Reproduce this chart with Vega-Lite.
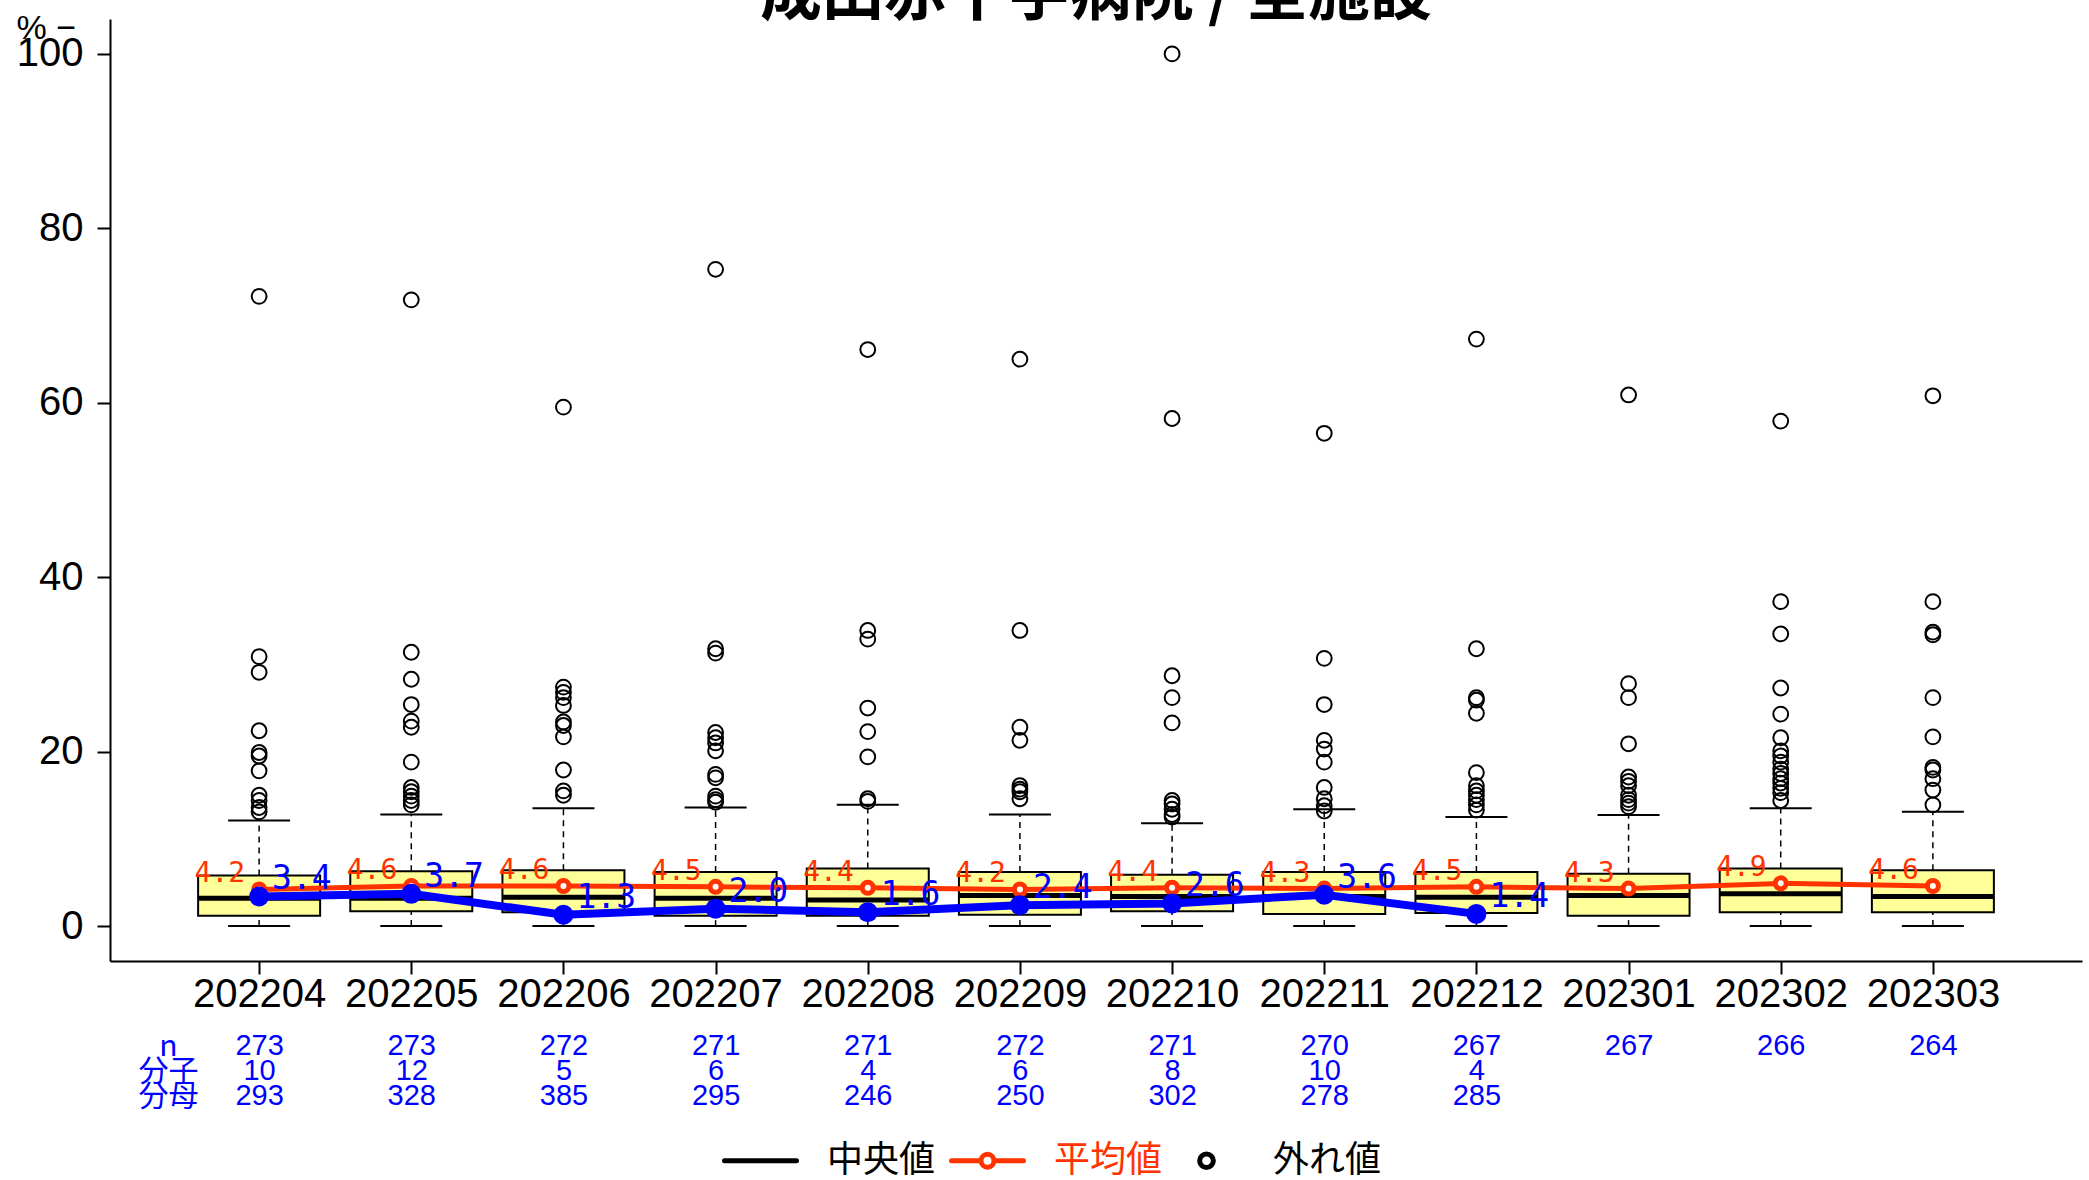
{
  "$schema": "https://vega.github.io/schema/vega-lite/v6.json",
  "width": 1972,
  "height": 942,
  "autosize": {"type": "none"},
  "padding": {"left": 110, "top": 19, "right": 7, "bottom": 219},
  "background": "white",
  "title": {"text": "成田赤十字病院 / 全施設", "font": "Noto Sans CJK JP", "fontSize": 62, "fontWeight": "bold", "color": "black", "anchor": "middle", "frame": "group", "offset": 0, "dy": 17},
  "config": {
    "view": {"stroke": null},
    "axis": {"grid": false},
    "legend": {"labelFont": "Noto Sans CJK JP", "labelFontSize": 36, "labelColor": "black", "symbolSize": 5184, "symbolStrokeWidth": 5, "labelOffset": 28, "columnPadding": 5, "labelLimit": 0, "padding": 0}
  },
  "datasets": {
    "stats": [
      {"month": "202204", "lo": 0, "q1": 1.2, "med": 3.2, "q3": 5.8, "hi": 12.1, "mean": 4.2, "hosp": 3.4, "table": "273|10|293"},
      {"month": "202205", "lo": 0, "q1": 1.7, "med": 3.2, "q3": 6.3, "hi": 12.8, "mean": 4.6, "hosp": 3.7, "table": "273|12|328"},
      {"month": "202206", "lo": 0, "q1": 1.6, "med": 3.3, "q3": 6.4, "hi": 13.5, "mean": 4.6, "hosp": 1.3, "table": "272|5|385"},
      {"month": "202207", "lo": 0, "q1": 1.2, "med": 3.2, "q3": 6.2, "hi": 13.6, "mean": 4.5, "hosp": 2.0, "table": "271|6|295"},
      {"month": "202208", "lo": 0, "q1": 1.2, "med": 3.0, "q3": 6.6, "hi": 13.9, "mean": 4.4, "hosp": 1.6, "table": "271|4|246"},
      {"month": "202209", "lo": 0, "q1": 1.3, "med": 3.5, "q3": 6.2, "hi": 12.8, "mean": 4.2, "hosp": 2.4, "table": "272|6|250"},
      {"month": "202210", "lo": 0, "q1": 1.7, "med": 3.4, "q3": 5.9, "hi": 11.8, "mean": 4.4, "hosp": 2.6, "table": "271|8|302"},
      {"month": "202211", "lo": 0, "q1": 1.4, "med": 3.4, "q3": 6.2, "hi": 13.4, "mean": 4.3, "hosp": 3.6, "table": "270|10|278"},
      {"month": "202212", "lo": 0, "q1": 1.5, "med": 3.3, "q3": 6.2, "hi": 12.5, "mean": 4.5, "hosp": 1.4, "table": "267|4|285"},
      {"month": "202301", "lo": 0, "q1": 1.2, "med": 3.5, "q3": 6.0, "hi": 12.75, "mean": 4.3, "hosp": null, "table": "267"},
      {"month": "202302", "lo": 0, "q1": 1.6, "med": 3.7, "q3": 6.6, "hi": 13.5, "mean": 4.9, "hosp": null, "table": "266"},
      {"month": "202303", "lo": 0, "q1": 1.6, "med": 3.4, "q3": 6.4, "hi": 13.1, "mean": 4.6, "hosp": null, "table": "264"}
    ],
    "outliers": [
      {"month": "202204", "v": 72.2}, {"month": "202204", "v": 30.9}, {"month": "202204", "v": 29.1}, {"month": "202204", "v": 22.4}, {"month": "202204", "v": 19.9}, {"month": "202204", "v": 19.5}, {"month": "202204", "v": 17.8}, {"month": "202204", "v": 15.0}, {"month": "202204", "v": 14.4}, {"month": "202204", "v": 13.6}, {"month": "202204", "v": 13.1},
      {"month": "202205", "v": 71.8}, {"month": "202205", "v": 31.4}, {"month": "202205", "v": 28.3}, {"month": "202205", "v": 25.4}, {"month": "202205", "v": 23.5}, {"month": "202205", "v": 22.8}, {"month": "202205", "v": 18.8}, {"month": "202205", "v": 15.9}, {"month": "202205", "v": 15.4}, {"month": "202205", "v": 14.9}, {"month": "202205", "v": 14.4}, {"month": "202205", "v": 13.9},
      {"month": "202206", "v": 59.5}, {"month": "202206", "v": 27.4}, {"month": "202206", "v": 26.8}, {"month": "202206", "v": 26.2}, {"month": "202206", "v": 25.3}, {"month": "202206", "v": 23.4}, {"month": "202206", "v": 23.0}, {"month": "202206", "v": 21.7}, {"month": "202206", "v": 17.9}, {"month": "202206", "v": 15.5}, {"month": "202206", "v": 15.0},
      {"month": "202207", "v": 75.3}, {"month": "202207", "v": 31.8}, {"month": "202207", "v": 31.3}, {"month": "202207", "v": 22.2}, {"month": "202207", "v": 21.6}, {"month": "202207", "v": 21.0}, {"month": "202207", "v": 20.1}, {"month": "202207", "v": 17.4}, {"month": "202207", "v": 17.0}, {"month": "202207", "v": 14.9}, {"month": "202207", "v": 14.5}, {"month": "202207", "v": 14.2},
      {"month": "202208", "v": 66.1}, {"month": "202208", "v": 33.9}, {"month": "202208", "v": 32.9}, {"month": "202208", "v": 25.0}, {"month": "202208", "v": 22.3}, {"month": "202208", "v": 19.4}, {"month": "202208", "v": 14.6}, {"month": "202208", "v": 14.3},
      {"month": "202209", "v": 65.0}, {"month": "202209", "v": 33.9}, {"month": "202209", "v": 22.8}, {"month": "202209", "v": 21.3}, {"month": "202209", "v": 16.1}, {"month": "202209", "v": 15.7}, {"month": "202209", "v": 15.4}, {"month": "202209", "v": 14.6},
      {"month": "202210", "v": 100.0}, {"month": "202210", "v": 58.2}, {"month": "202210", "v": 28.7}, {"month": "202210", "v": 26.2}, {"month": "202210", "v": 23.3}, {"month": "202210", "v": 14.4}, {"month": "202210", "v": 14.0}, {"month": "202210", "v": 13.4}, {"month": "202210", "v": 12.8}, {"month": "202210", "v": 12.5},
      {"month": "202211", "v": 56.5}, {"month": "202211", "v": 30.7}, {"month": "202211", "v": 25.4}, {"month": "202211", "v": 21.3}, {"month": "202211", "v": 20.3}, {"month": "202211", "v": 18.8}, {"month": "202211", "v": 15.9}, {"month": "202211", "v": 14.6}, {"month": "202211", "v": 13.8}, {"month": "202211", "v": 13.2},
      {"month": "202212", "v": 67.3}, {"month": "202212", "v": 31.8}, {"month": "202212", "v": 26.2}, {"month": "202212", "v": 25.9}, {"month": "202212", "v": 24.4}, {"month": "202212", "v": 17.6}, {"month": "202212", "v": 16.1}, {"month": "202212", "v": 15.5}, {"month": "202212", "v": 15.0}, {"month": "202212", "v": 14.5}, {"month": "202212", "v": 13.9}, {"month": "202212", "v": 13.3},
      {"month": "202301", "v": 60.9}, {"month": "202301", "v": 27.8}, {"month": "202301", "v": 26.2}, {"month": "202301", "v": 20.9}, {"month": "202301", "v": 17.1}, {"month": "202301", "v": 16.6}, {"month": "202301", "v": 16.1}, {"month": "202301", "v": 15.0}, {"month": "202301", "v": 14.5}, {"month": "202301", "v": 14.1}, {"month": "202301", "v": 13.7},
      {"month": "202302", "v": 57.9}, {"month": "202302", "v": 37.2}, {"month": "202302", "v": 33.5}, {"month": "202302", "v": 27.3}, {"month": "202302", "v": 24.3}, {"month": "202302", "v": 21.6}, {"month": "202302", "v": 20.1}, {"month": "202302", "v": 19.5}, {"month": "202302", "v": 18.8}, {"month": "202302", "v": 18.0}, {"month": "202302", "v": 17.5}, {"month": "202302", "v": 16.9}, {"month": "202302", "v": 16.4}, {"month": "202302", "v": 15.8}, {"month": "202302", "v": 15.3}, {"month": "202302", "v": 14.4},
      {"month": "202303", "v": 60.8}, {"month": "202303", "v": 37.2}, {"month": "202303", "v": 33.7}, {"month": "202303", "v": 33.4}, {"month": "202303", "v": 26.2}, {"month": "202303", "v": 21.7}, {"month": "202303", "v": 18.2}, {"month": "202303", "v": 17.9}, {"month": "202303", "v": 16.9}, {"month": "202303", "v": 15.6}, {"month": "202303", "v": 13.9}
    ]
  },
  "layer": [
    {
      "encoding": {
        "x": {"field": "month", "type": "nominal", "sort": null,
          "scale": {"type": "point", "padding": 0.98, "domain": ["202204","202205","202206","202207","202208","202209","202210","202211","202212","202301","202302","202303"]},
          "axis": {"title": null, "orient": "bottom", "labelFont": "Liberation Sans", "labelFontSize": 40, "labelColor": "black", "labelAngle": 0, "labelPadding": 0, "labelOverlap": false, "labelBound": false, "tickSize": 13, "tickWidth": 2, "tickColor": "black", "domainColor": "black", "domainWidth": 2}
        }
      },
      "layer": [
        {"data": {"name": "stats"}, "mark": {"type": "rule", "strokeDash": [6, 5], "strokeWidth": 1.5, "color": "black"},
          "encoding": {"y": {"field": "q3", "type": "quantitative", "scale": {"domain": [-4, 104], "nice": false, "zero": false},
            "axis": {"values": [0, 20, 40, 60, 80, 100], "title": "% −", "titleAngle": 0, "titleAlign": "left", "titleBaseline": "alphabetic", "titleX": -94, "titleY": 19, "titleFont": "Liberation Sans", "titleFontSize": 34, "titleFontWeight": "normal", "titleColor": "black", "labelFont": "Liberation Sans", "labelFontSize": 40, "labelColor": "black", "labelPadding": 14, "tickSize": 13, "tickWidth": 2, "tickColor": "black", "domainColor": "black", "domainWidth": 2, "labelOverlap": false}},
            "y2": {"field": "hi"}}},
        {"data": {"name": "stats"}, "mark": {"type": "rule", "strokeDash": [6, 5], "strokeWidth": 1.5, "color": "black"},
          "encoding": {"y": {"field": "lo", "type": "quantitative"}, "y2": {"field": "q1"}}},
        {"data": {"name": "stats"}, "mark": {"type": "bar", "size": 122, "fill": "#FFFF99", "stroke": "black", "strokeWidth": 2, "opacity": 1},
          "encoding": {"y": {"field": "q1", "type": "quantitative"}, "y2": {"field": "q3"}}},
        {"data": {"name": "stats"}, "mark": {"type": "tick", "size": 122, "thickness": 5, "opacity": 1},
          "encoding": {"y": {"field": "med", "type": "quantitative"},
            "color": {"datum": "中央値", "type": "nominal", "scale": {"domain": ["中央値", "平均値", "外れ値"], "range": ["black", "#FF3300", "black"]}}}},
        {"data": {"name": "stats"}, "mark": {"type": "tick", "size": 62, "thickness": 2, "color": "black", "opacity": 1},
          "encoding": {"y": {"field": "hi", "type": "quantitative"}}},
        {"data": {"name": "stats"}, "mark": {"type": "tick", "size": 62, "thickness": 2, "color": "black", "opacity": 1},
          "encoding": {"y": {"field": "lo", "type": "quantitative"}}},
        {"data": {"name": "outliers"}, "mark": {"type": "point", "shape": "circle", "filled": false, "size": 220, "strokeWidth": 2, "opacity": 1},
          "encoding": {"y": {"field": "v", "type": "quantitative"}, "color": {"datum": "外れ値", "type": "nominal"}}},
        {"data": {"name": "stats"}, "mark": {"type": "line", "strokeWidth": 5},
          "encoding": {"y": {"field": "mean", "type": "quantitative"},
            "color": {"datum": "平均値", "type": "nominal",
              "legend": {"title": null, "orient": "none", "legendX": 612, "legendY": 1103, "direction": "horizontal",
                "encode": {
                  "symbols": {"update": {
                    "shape": {"signal": "datum.value === '中央値' ? 'M-1,0H1' : datum.value === '平均値' ? 'M-1,0H-0.18M0.18,0H1M0.18,0A0.18,0.18 0 1,1 -0.18,0A0.18,0.18 0 1,1 0.18,0' : 'M0.19,0A0.19,0.19 0 1,1 -0.19,0A0.19,0.19 0 1,1 0.19,0'"},
                    "stroke": {"signal": "datum.value === '平均値' ? '#FF3300' : 'black'"},
                    "fill": {"value": "transparent"},
                    "fillOpacity": {"value": 0},
                    "strokeOpacity": {"value": 1},
                    "strokeWidth": {"value": 5},
                    "strokeCap": {"value": "round"},
                    "opacity": {"value": 1}
                  }},
                  "labels": {"update": {"fill": {"signal": "datum.value === '平均値' ? '#FF3300' : 'black'"}}}
                }}}}},
        {"data": {"name": "stats"}, "mark": {"type": "point", "shape": "circle", "filled": false, "fill": "white", "stroke": "#FF3300", "strokeWidth": 5, "size": 121, "opacity": 1},
          "encoding": {"y": {"field": "mean", "type": "quantitative"}}},
        {"data": {"name": "stats"}, "mark": {"type": "line", "strokeWidth": 8, "color": "#0000FF"},
          "encoding": {"y": {"field": "hosp", "type": "quantitative"}}},
        {"data": {"name": "stats"}, "mark": {"type": "point", "shape": "circle", "filled": true, "color": "#0000FF", "size": 400, "opacity": 1},
          "encoding": {"y": {"field": "hosp", "type": "quantitative"}}},
        {"data": {"name": "stats"}, "mark": {"type": "text", "font": "DejaVu Sans Mono", "fontSize": 28, "color": "#FF3300", "align": "right", "baseline": "alphabetic", "dx": -14, "dy": -7},
          "encoding": {"y": {"field": "mean", "type": "quantitative"}, "text": {"field": "mean", "type": "quantitative", "format": ".1f"}}},
        {"data": {"name": "stats"}, "mark": {"type": "text", "font": "DejaVu Sans Mono", "fontSize": 33, "color": "#0000FF", "align": "left", "baseline": "alphabetic", "dx": 13, "dy": -7},
          "encoding": {"y": {"field": "hosp", "type": "quantitative"}, "text": {"field": "hosp", "type": "quantitative", "format": ".1f"}}}
      ]
    },
    {
      "data": {"name": "stats"},
      "mark": {"type": "point", "opacity": 0},
      "encoding": {
        "x": {"field": "table", "type": "nominal", "sort": null, "scale": {"type": "point", "padding": 0.98},
          "axis": {"orient": "bottom", "offset": 70, "ticks": false, "domain": false, "labelPadding": 0, "labelBaseline": "top", "labelLineHeight": 25, "labelFont": "Liberation Sans", "labelFontSize": 29, "labelColor": "#0000FF", "labelAngle": 0, "labelOverlap": false, "labelBound": false, "labelExpr": "split(datum.label, '|')",
            "title": ["n", "分子", "分母"], "titleFont": "Noto Sans CJK JP", "titleFontSize": 30, "titleFontWeight": "normal", "titleColor": "#0000FF", "titleLineHeight": 25, "titleAngle": 0, "titleAlign": "center", "titleBaseline": "top", "titleX": 58, "titleY": 0}},
        "y": {"field": "med", "type": "quantitative"}
      }
    }
  ],
  "resolve": {"scale": {"x": "independent"}}
}
